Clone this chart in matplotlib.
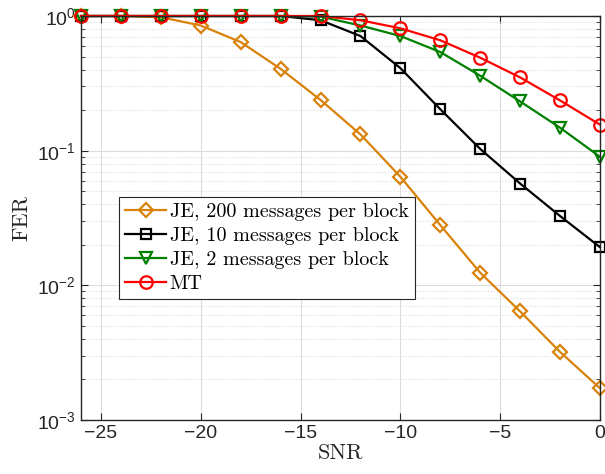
import numpy as np
import matplotlib
matplotlib.use("Agg")
import matplotlib.pyplot as plt
from matplotlib.ticker import LogLocator, NullFormatter

plt.rcParams['mathtext.fontset'] = 'custom'
plt.rcParams['mathtext.rm'] = 'Liberation Sans'
plt.rcParams['font.family'] = ['Liberation Sans', 'DejaVu Sans']

snr = [-26, -24, -22, -20, -18, -16, -14, -12, -10, -8, -6, -4, -2, 0]
fer_je200 = [1.0, 1.0, 0.98, 0.85, 0.64, 0.405, 0.238, 0.132, 0.064, 0.028, 0.0124, 0.0064, 0.0032, 0.00172]
fer_je10 = [1.0, 1.0, 1.0, 1.0, 1.0, 1.0, 0.93, 0.71, 0.41, 0.203, 0.103, 0.057, 0.0327, 0.0192]
fer_je2 = [1.0, 1.0, 1.0, 1.0, 1.0, 1.0, 0.99, 0.85, 0.71, 0.54, 0.36, 0.232, 0.148, 0.090]
fer_mt = [1.0, 1.0, 1.0, 1.0, 1.0, 1.0, 1.0, 0.93, 0.81, 0.66, 0.49, 0.35, 0.236, 0.156]

labels = ['JE, 200 messages per block', 'JE, 10 messages per block',
          'JE, 2 messages per block', 'MT']

fig = plt.figure(figsize=(6.05, 4.74), dpi=100)
ax = fig.add_axes([81/605, 54/474, 519/605, 404/474])

styles = [
    (fer_je200, '#D9820A', 'D', 7.5),
    (fer_je10, 'black', 's', 7.5),
    (fer_je2, '#008000', 'v', 9),
    (fer_mt, '#FF0000', 'o', 9),
]
for (vals, col, mk, ms), lab in zip(styles, labels):
    ax.plot(snr, vals, color=col, marker=mk, markersize=ms, markerfacecolor='none',
            markeredgewidth=1.6, linewidth=1.6, label=lab, clip_on=False)

ax.set_yscale('log')
ax.set_ylim(1e-3, 1)
ax.set_xlim(-26, 0)
ax.set_xticks([-25, -20, -15, -10, -5, 0])
ax.yaxis.set_minor_locator(LogLocator(base=10, subs=np.arange(2, 10)))
ax.yaxis.set_minor_formatter(NullFormatter())

ax.grid(True, which='major', color='#dcdcdc', linewidth=0.8)
ax.grid(True, which='minor', axis='y', color='#dcdcdc', linestyle=':', linewidth=0.8)
ax.set_axisbelow(True)

ax.tick_params(which='both', direction='in', top=True, right=True, colors='#262626',
               labelsize=14)
ax.tick_params(which='major', length=5)
ax.tick_params(which='minor', length=3)
for s in ax.spines.values():
    s.set_color('#262626')
    s.set_linewidth(1.0)

ax.set_xlabel('SNR', family='cmr10', fontsize=16, color='#262626', labelpad=1)
ax.set_ylabel('FER', family='cmr10', fontsize=16, color='#262626', labelpad=4)

leg = ax.legend(loc='upper left', bbox_to_anchor=(0.074, 0.553), prop={'family': 'cmr10', 'size': 14.5},
                fancybox=False, edgecolor='#262626', framealpha=1, handlelength=2.0,
                handletextpad=0.2, labelspacing=0.3, borderpad=0.3, borderaxespad=0)
leg.get_frame().set_linewidth(0.8)

fig.savefig('out.png', dpi=100)
